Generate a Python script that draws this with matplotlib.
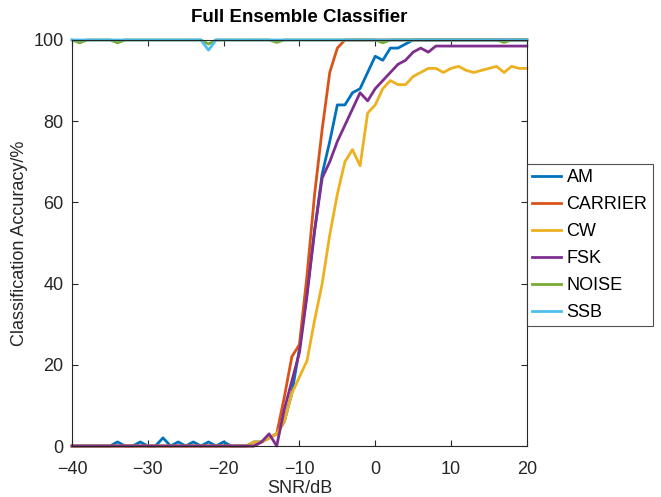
import numpy as np
import matplotlib
matplotlib.use("Agg")
import matplotlib.pyplot as plt

plt.rcParams['font.family'] = ['Liberation Sans', 'DejaVu Sans']

snr = np.arange(-40, 21)  # dB, 1 dB steps

# accuracy in %, one value per SNR step
am = [0, 0, 0, 0, 0, 0, 1, 0, 0, 1, 0, 0, 2, 0, 1, 0, 1, 0, 1, 0,
      1, 0, 0, 0, 1, 1, 2, 3, 6, 13, 24, 38, 53, 67, 75, 84, 84, 87, 88, 92,
      96, 95, 98, 98, 99, 100, 100, 100, 100, 100, 100, 100, 100, 100, 100, 100, 100, 100, 100, 100,
      100]
carrier = [0, 0, 0, 0, 0, 0, 0, 0, 0, 0, 0, 0, 0, 0, 0, 0, 0, 0, 0, 0,
           0, 0, 0, 0, 0, 1, 2, 3, 12, 22, 25, 42, 62, 78, 92, 98, 100, 100, 100, 100,
           100, 100, 100, 100, 100, 100, 100, 100, 100, 100, 100, 100, 100, 100, 100, 100, 100, 100, 100, 100,
           100]
cw = [0, 0, 0, 0, 0, 0, 0, 0, 0, 0, 0, 0, 0, 0, 0, 0, 0, 0, 0, 0,
      0, 0, 0, 0, 1, 1, 2, 3, 6, 13, 17, 21, 31, 40, 52, 62, 70, 73, 69, 82,
      84, 88, 90, 89, 89, 91, 92, 93, 93, 92, 93, 93.5, 92.5, 92, 92.5, 93, 93.5, 92, 93.5, 93,
      93]
fsk = [0, 0, 0, 0, 0, 0, 0, 0, 0, 0, 0, 0, 0, 0, 0, 0, 0, 0, 0, 0,
       0, 0, 0, 0, 0, 1, 3, 0, 9, 16, 23, 37, 53, 66, 70, 75, 79, 83, 87, 85,
       88, 90, 92, 94, 95, 97, 98, 97, 98.5, 98.5, 98.5, 98.5, 98.5, 98.5, 98.5, 98.5, 98.5, 98.5, 98.5, 98.5,
       98.5]
noise = [100, 99.3, 100, 100, 100, 100, 99.3, 100, 100, 100, 100, 100, 100, 100, 100, 100, 100, 100, 99, 100,
         100, 100, 100, 100, 100, 100, 100, 99.4, 100, 100, 100, 100, 100, 100, 100, 100, 100, 100, 100, 100,
         100, 99.3, 100, 100, 100, 100, 100, 100, 100, 100, 100, 100, 100, 100, 100, 100, 100, 99.4, 100, 100,
         100]
ssb = [100, 100, 100, 100, 100, 100, 100, 100, 100, 100, 100, 100, 100, 100, 100, 100, 100, 100, 97.5, 100,
       100, 100, 100, 100, 100, 100, 100, 100, 100, 100, 100, 100, 100, 100, 100, 100, 100, 100, 100, 100,
       100, 100, 100, 100, 100, 100, 100, 100, 100, 100, 100, 100, 100, 100, 100, 100, 100, 100, 100, 100,
       100]

labels = ['AM', 'CARRIER', 'CW', 'FSK', 'NOISE', 'SSB']
colors = ['#0072BD', '#D95319', '#EDB120', '#7E2F8E', '#77AC30', '#4DBEEE']
series = [am, carrier, cw, fsk, noise, ssb]

fig = plt.figure(figsize=(6.61, 4.97), dpi=100)
ax = fig.add_axes([0.109, 0.1026, 0.688, 0.817])

for y, lab, c in zip(series, labels, colors):
    ax.plot(snr, y, color=c, lw=2.0, label=lab, clip_on=False)

ax.set_xlim(-40, 20)
ax.set_ylim(0, 100)
ax.set_xticks(range(-40, 21, 10))
ax.set_yticks(range(0, 101, 20))
ax.tick_params(direction='in', length=4, width=0.8, top=True, right=True,
               labelsize=13, colors='#262626')
ax.tick_params(axis='x', pad=11)
ax.tick_params(axis='y', pad=6)
for s in ax.spines.values():
    s.set_color('#262626')
    s.set_linewidth(0.8)

ax.set_title('Full Ensemble Classifier', fontsize=13.5, fontweight='bold', pad=13)
ax.set_xlabel('SNR/dB', fontsize=13, color='#262626', labelpad=1)
ax.set_ylabel('Classification Accuracy/%', fontsize=13, color='#262626', labelpad=4)

leg = ax.legend(loc='upper left', bbox_to_anchor=(1.0, 0.695), fontsize=13,
                frameon=True, fancybox=False, edgecolor='#262626',
                handlelength=1.6, handletextpad=0.3, labelspacing=0.55,
                borderpad=0.3, borderaxespad=0.0)
leg.get_frame().set_linewidth(0.8)

fig.savefig('out.png', dpi=100)
